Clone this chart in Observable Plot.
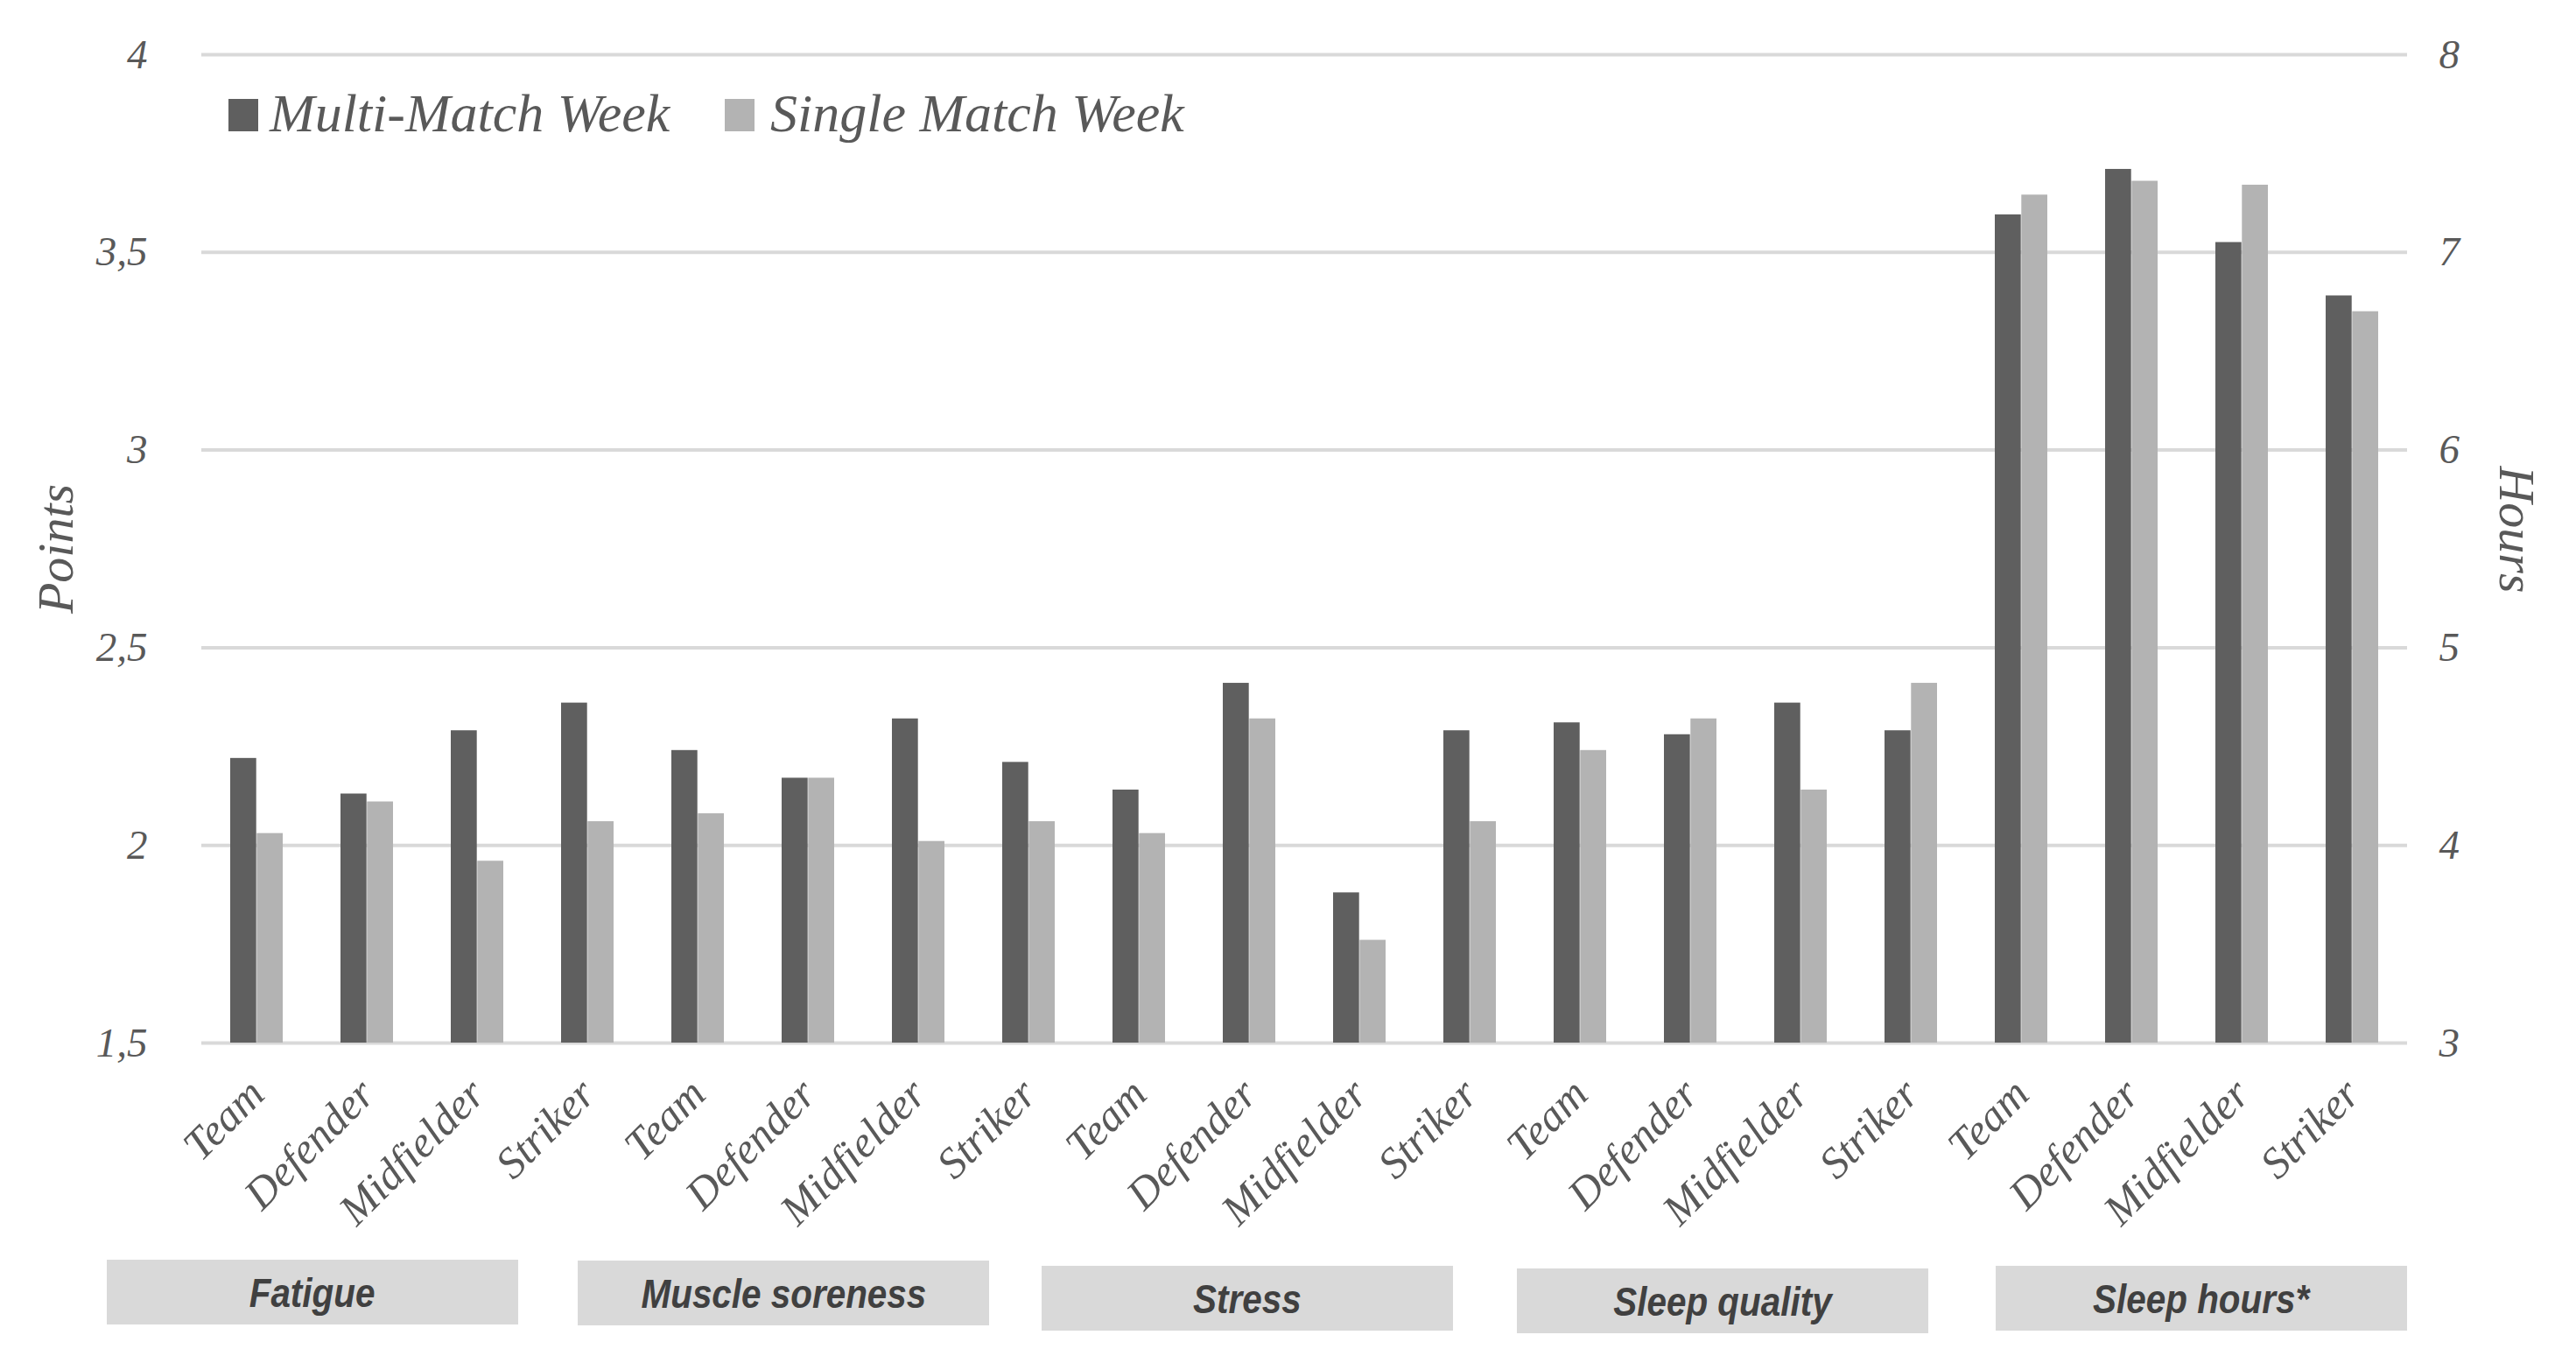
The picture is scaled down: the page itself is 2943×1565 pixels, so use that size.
<!DOCTYPE html>
<html>
<head>
<meta charset="utf-8">
<script src="https://cdn.jsdelivr.net/npm/d3@7"></script>
<script src="https://cdn.jsdelivr.net/npm/@observablehq/plot@0.6"></script>
<style>
  html, body { margin: 0; padding: 0; background: #ffffff; }
  #wrap { position: relative; width: 2943px; height: 1565px; overflow: hidden; background: #ffffff; }
  #chart { position: absolute; left: 0; top: 0; }
  .legend-item { position: absolute; font-family: "Liberation Serif", serif; font-style: italic; font-size: 62px; line-height: 1; color: #595959; white-space: nowrap; }
  .swatch { position: absolute; width: 34px; height: 37px; }
  .catbox { position: absolute; width: 470px; height: 74px; background: #d9d9d9; display: flex; align-items: center; justify-content: center;
            font-family: "Liberation Sans Narrow", "Liberation Sans", sans-serif; font-weight: bold; font-style: italic; font-size: 47px; color: #404040; }
  .catbox span { display: inline-block; transform: scaleX(0.86); white-space: nowrap; }
</style>
</head>
<body>
<div id="wrap">
  <div id="chart"></div>
</div>
<script>
// ---- data ----
const categories = ["Fatigue", "Muscle soreness", "Stress", "Sleep quality", "Sleep hours*"];
const positions = ["Team", "Defender", "Midfielder", "Striker"];
const series = ["Multi-Match Week", "Single Match Week"];
const colors = ["#5f5f5f", "#b3b3b3"];

// Points (Fatigue, Muscle soreness, Stress, Sleep quality), 4 positions each
const multiPoints  = [2.22, 2.13, 2.29, 2.36,  2.24, 2.17, 2.32, 2.21,  2.14, 2.41, 1.88, 2.29,  2.31, 2.28, 2.36, 2.29];
const singlePoints = [2.03, 2.11, 1.96, 2.06,  2.08, 2.17, 2.01, 2.06,  2.03, 2.32, 1.76, 2.06,  2.24, 2.32, 2.14, 2.41];
// Hours (Sleep hours*), right axis
const multiHours  = [7.19, 7.42, 7.05, 6.78];
const singleHours = [7.29, 7.36, 7.34, 6.70];

const pointTicks = [1.5, 2, 2.5, 3, 3.5, 4];
const hourDomain = [3, 8];
const pointDomain = [1.5, 4];

// map hours onto the points scale (right axis is a linear rescale)
const hoursToPoints = h => pointDomain[0] + (h - hourDomain[0]) * (pointDomain[1] - pointDomain[0]) / (hourDomain[1] - hourDomain[0]);
const pointsToHours = p => hourDomain[0] + (p - pointDomain[0]) * (hourDomain[1] - hourDomain[0]) / (pointDomain[1] - pointDomain[0]);

const keys = [];
const rows = [];
categories.forEach((cat, ci) => {
  positions.forEach((pos, pi) => {
    const key = cat + "|" + pos;
    keys.push(key);
    const isHours = ci === categories.length - 1;
    const mv = isHours ? hoursToPoints(multiHours[pi]) : multiPoints[ci * 4 + pi];
    const sv = isHours ? hoursToPoints(singleHours[pi]) : singlePoints[ci * 4 + pi];
    rows.push({key, series: series[0], y: mv});
    rows.push({key, series: series[1], y: sv});
  });
});

// ---- layout ----
const W = 2943, H = 1430;
const mL = 230, mR = 193, mT = 62, mB = H - 1191;
const padIn = 0.52, padOut = 0.24;
const step = (W - mL - mR) / (keys.length - padIn + 2 * padOut);
const half = step * (1 - padIn) / 2;

const chart = Plot.plot({
  width: W, height: H,
  marginLeft: mL, marginRight: mR, marginTop: mT, marginBottom: mB,
  style: {fontFamily: "'Liberation Serif', serif", fontStyle: "italic", color: "#595959", background: "transparent", overflow: "visible"},
  x: {domain: keys, paddingInner: padIn, paddingOuter: padOut, align: 0.5, axis: null},
  y: {domain: pointDomain, axis: null},
  color: {domain: series, range: colors},
  marks: [
    Plot.ruleY(pointTicks, {stroke: "#d9d9d9", strokeWidth: 4}),
    Plot.barY(rows.filter(d => d.series === series[0]), {x: "key", y1: pointDomain[0], y2: "y", fill: "series", insetRight: half, insetLeft: 0}),
    Plot.barY(rows.filter(d => d.series === series[1]), {x: "key", y1: pointDomain[0], y2: "y", fill: "series", insetLeft: half, insetRight: 0}),
    Plot.axisY({anchor: "left", ticks: pointTicks, tickSize: 0, tickPadding: 62, fontSize: 47,
      tickFormat: d => String(d).replace(".", ","), label: null}),
    Plot.axisY({anchor: "right", ticks: pointTicks, tickSize: 0, tickPadding: 36, fontSize: 47,
      tickFormat: d => String(pointsToHours(d)), label: null}),
    Plot.axisX({anchor: "bottom", ticks: keys, tickRotate: -45, tickSize: 0, tickPadding: 50, fontSize: 50,
      tickFormat: k => k.split("|")[1], label: null}),
    Plot.text(["Points"], {text: d => d, frameAnchor: "left", textAnchor: "middle", rotate: -90, dx: -166, fontSize: 58}),
    Plot.text(["Hours"], {text: d => d, frameAnchor: "right", textAnchor: "middle", rotate: 90, dx: 124, dy: -22, fontSize: 58})
  ]
});
document.getElementById("chart").appendChild(chart);

// ---- legend (HTML, inside plot area top-left) ----
const wrap = document.getElementById("wrap");
const legendPos = [{sx: 261, tx: 308}, {sx: 828, tx: 880}];
series.forEach((s, i) => {
  const sw = document.createElement("div");
  sw.className = "swatch";
  sw.style.left = legendPos[i].sx + "px";
  sw.style.top = "113px";
  sw.style.background = colors[i];
  wrap.appendChild(sw);
  const t = document.createElement("div");
  t.className = "legend-item";
  t.style.left = legendPos[i].tx + "px";
  t.style.top = "98px";
  t.textContent = s;
  wrap.appendChild(t);
});

// ---- category boxes below the axis ----
const boxPos = [{x: 122, y: 1439}, {x: 660, y: 1440}, {x: 1190, y: 1446}, {x: 1733, y: 1449}, {x: 2280, y: 1446}];
categories.forEach((c, i) => {
  const b = document.createElement("div");
  b.className = "catbox";
  b.style.left = boxPos[i].x + "px";
  b.style.top = boxPos[i].y + "px";
  const sp = document.createElement("span");
  sp.textContent = c;
  b.appendChild(sp);
  wrap.appendChild(b);
});
</script>
</body>
</html>
